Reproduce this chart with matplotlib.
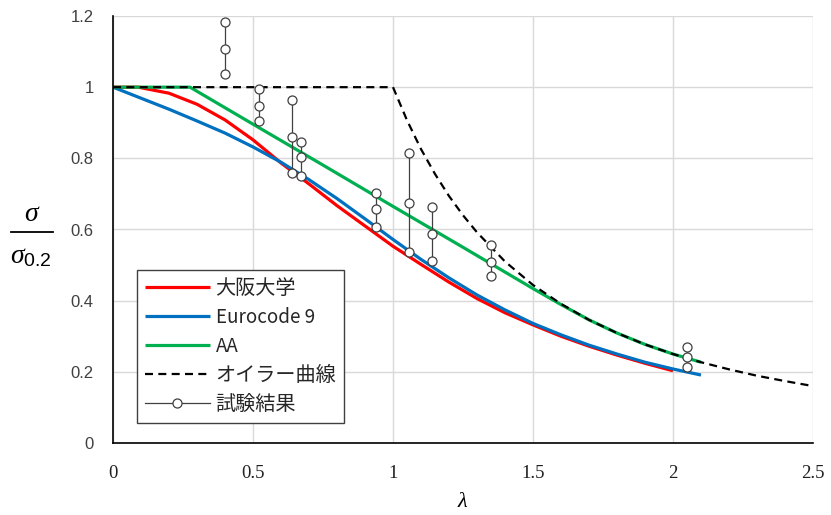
import matplotlib
matplotlib.use("Agg")
import matplotlib.pyplot as plt
from matplotlib.lines import Line2D

# ---- data ----
lam_osaka = [0.0, 0.09, 0.2, 0.3, 0.4, 0.5, 0.6, 0.7, 0.8, 0.9, 1.0, 1.1, 1.2, 1.3, 1.4, 1.5, 1.6, 1.7, 1.8, 1.9, 2.0]
sig_osaka = [1.0, 1.0, 0.983, 0.952, 0.908, 0.852, 0.787, 0.728, 0.667, 0.610, 0.553, 0.502, 0.452, 0.406, 0.366, 0.332, 0.300, 0.272, 0.247, 0.224, 0.203]

lam_ec9 = [0.0, 0.1, 0.2, 0.3, 0.4, 0.5, 0.6, 0.7, 0.8, 0.9, 1.0, 1.1, 1.2, 1.3, 1.4, 1.5, 1.6, 1.7, 1.8, 1.9, 2.0, 2.1]
sig_ec9 = [1.0, 0.969, 0.938, 0.905, 0.871, 0.832, 0.789, 0.740, 0.687, 0.630, 0.572, 0.516, 0.464, 0.416, 0.374, 0.336, 0.304, 0.275, 0.250, 0.227, 0.208, 0.191]

lam_aa = [0.0, 0.275, 0.5, 0.75, 1.0, 1.25, 1.5, 1.6, 1.7, 1.8, 1.9, 2.0, 2.1]
sig_aa = [1.0, 1.0, 0.896, 0.781, 0.665, 0.550, 0.434, 0.389, 0.346, 0.309, 0.277, 0.250, 0.227]

lam_euler = [0.0, 1.0, 1.05, 1.1, 1.15, 1.2, 1.25, 1.3, 1.4, 1.5, 1.6, 1.7, 1.8, 1.9, 2.0, 2.1, 2.2, 2.3, 2.4, 2.5]
sig_euler = [1.0, 1.0, 0.907, 0.826, 0.756, 0.694, 0.640, 0.592, 0.510, 0.444, 0.391, 0.346, 0.309, 0.277, 0.250, 0.227, 0.207, 0.189, 0.174, 0.160]

test_lam = [0.40, 0.52, 0.64, 0.67, 0.94, 1.057, 1.14, 1.35, 2.05]
test_max = [1.182, 0.995, 0.964, 0.847, 0.702, 0.814, 0.662, 0.556, 0.271]
test_mid = [1.107, 0.948, 0.861, 0.803, 0.657, 0.675, 0.587, 0.510, 0.243]
test_min = [1.036, 0.904, 0.758, 0.751, 0.606, 0.538, 0.512, 0.469, 0.214]

x_ticks = [0, 0.5, 1, 1.5, 2, 2.5]
x_tick_labels = ["0", "0.5", "1", "1.5", "2", "2.5"]
y_ticks = [0, 0.2, 0.4, 0.6, 0.8, 1.0, 1.2]
y_tick_labels = ["0", "0.2", "0.4", "0.6", "0.8", "1", "1.2"]

labels = ["大阪大学", "Eurocode 9", "AA", "オイラー曲線", "試験結果"]

# ---- figure ----
plt.rcParams['font.family'] = ['Noto Sans CJK JP', 'DejaVu Sans']
plt.rcParams['mathtext.fontset'] = 'custom'
plt.rcParams['mathtext.it'] = 'Liberation Serif:italic'
plt.rcParams['mathtext.rm'] = 'Liberation Sans'

fig = plt.figure(figsize=(8.31, 5.15), dpi=100)
ax = fig.add_axes([113/831, 1-443/515, 700/831, 427/515])

ax.plot(lam_osaka, sig_osaka, color='#FF0000', lw=2.3, label=labels[0], zorder=3, solid_capstyle='butt')
ax.plot(lam_ec9, sig_ec9, color='#0070C0', lw=2.3, label=labels[1], zorder=3, solid_capstyle='butt')
ax.plot(lam_aa, sig_aa, color='#00B050', lw=2.3, label=labels[2], zorder=3, solid_capstyle='butt')
ax.plot(lam_euler, sig_euler, color='black', lw=1.6, ls=(0, (3.6, 2.4)), label=labels[3], zorder=4)

tc = '#404040'
for i, (l, a, b, c) in enumerate(zip(test_lam, test_max, test_mid, test_min)):
    ax.plot([l, l, l], [a, b, c], color=tc, lw=0.9, marker='o', ms=6.5,
            mfc='white', mec=tc, mew=0.9, zorder=5,
            label=labels[4] if i == 0 else None)

ax.set_xlim(0, 2.5)
ax.set_ylim(0, 1.2)
ax.set_xticks(x_ticks)
ax.set_xticklabels(x_tick_labels, family='Liberation Serif', fontsize=13.5, color='#202020')
ax.set_yticks(y_ticks)
ax.set_yticklabels(y_tick_labels, family='Liberation Sans', fontsize=12, color='#404040')
ax.tick_params(axis='x', length=0, pad=16)
ax.tick_params(axis='y', length=0, pad=14)
ax.grid(True, color='#D9D9D9', lw=1)
ax.set_axisbelow(True)
for s in ['top', 'right']:
    ax.spines[s].set_visible(False)
for s in ['left', 'bottom']:
    ax.spines[s].set_color('black')
    ax.spines[s].set_linewidth(1.2)
    ax.spines[s].set_zorder(6)

ax.set_xlabel(r'$\lambda$', fontsize=16, labelpad=5)

# y label as fraction
fig.text(32/831, 1-213/515, r'$\sigma$', fontsize=20, ha='center', va='center')
fig.add_artist(Line2D([11/831, 53/831], [1-232/515, 1-232/515], color='black', lw=1.3))
fig.text(31/831, 1-255/515, r'$\sigma_{\mathrm{0.2}}$', fontsize=20, ha='center', va='center')

leg = ax.legend(loc='lower left', bbox_to_anchor=(24/700, 20/427), borderaxespad=0,
                fancybox=False, frameon=True, edgecolor='#404040', framealpha=1,
                fontsize=14.5, handlelength=3.2, handletextpad=0.3, labelspacing=0.4,
                borderpad=0.4)
leg.get_frame().set_linewidth(1.0)
leg.set_zorder(10)
for t in leg.get_texts():
    t.set_color('#262626')
    if t.get_text() in ("Eurocode 9", "AA"):
        t.set_fontsize(13.5)

fig.savefig('out.png', dpi=100)
